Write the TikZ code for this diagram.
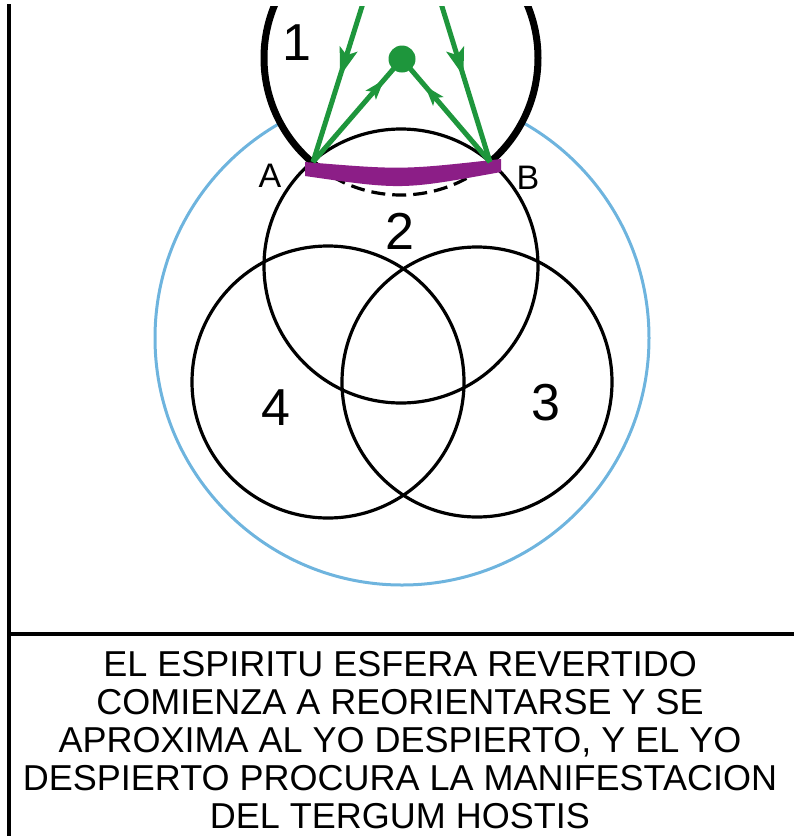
\documentclass[tikz,border=0pt]{standalone}
\usepackage{fontspec}
\setmainfont{Liberation Sans}
\usetikzlibrary{arrows.meta,decorations.markings}
\definecolor{skyblue}{RGB}{110,180,222}
\definecolor{arrowgreen}{RGB}{30,150,60}
\definecolor{bandmagenta}{RGB}{140,30,135}
\begin{document}
\begin{tikzpicture}[x=0.5pt,y=-0.5pt,
  ring/.style={draw=black,line width=1.6pt},
  frameline/.style={draw=black,line width=1.8pt},
  greenline/.style={draw=arrowgreen,line width=2.5pt},
  bigarrow/.style={greenline,postaction={decorate},decoration={markings,mark=at position #1 with {\arrow[arrowgreen]{Stealth[length=14pt,width=9pt,inset=3pt]}}}},
  smallarrow/.style={greenline,postaction={decorate},decoration={markings,mark=at position #1 with {\arrow[arrowgreen]{Stealth[length=10pt,width=6.5pt,inset=2pt]}}}},
  numlabel/.style={font=\fontsize{26pt}{28pt}\selectfont,inner sep=0pt},
  ptlabel/.style={font=\fontsize{17pt}{19pt}\selectfont,inner sep=0pt},
  caption/.style={font=\fontsize{18pt}{19pt}\selectfont,anchor=base,inner sep=0pt}]
\useasboundingbox (0,0) rectangle (794,836);
% frame
\draw[frameline] (9,4) -- (9,836);
\draw[frameline] (9,634) -- (794,634);
\begin{scope}
\clip (0,6) rectangle (794,836);
\draw[skyblue,line width=1.5pt] (402,338) circle[radius=247];
\fill[white] (401,58) circle[radius=137];
\draw[ring] (401,266) circle[radius=137];
\draw[ring] (477,382) circle[radius=135];
\draw[ring] (328,382) circle[radius=136];
\begin{scope}
\clip (0,0) rectangle (794,162);
\draw[line width=3.5pt] (401,58) circle[radius=137];
\end{scope}
\begin{scope}
\clip (0,163) rectangle (794,300);
\draw[line width=1.6pt,dash pattern=on 7pt off 3.5pt] (401,58) circle[radius=137];
\end{scope}
\fill[bandmagenta] (305,162) .. controls (402,170) .. (501,159) -- (501,172) .. controls (402,190) .. (305,176) -- cycle;
\coordinate (A) at (313,162);
\coordinate (B) at (490,162);
\coordinate (topL) at (364,0);
\coordinate (topR) at (440,0);
\node[circle,fill=arrowgreen,minimum size=13.5pt,inner sep=0pt] (dot) at (402,59) {};
\draw[bigarrow=0.47] (topL) -- (A);
\draw[bigarrow=0.47] (topR) -- (B);
\draw[smallarrow=0.8] (A) -- (dot.center);
\draw[smallarrow=0.74] (B) -- (dot.center);
\end{scope}
% labels
\node[numlabel] (n1) at (297,43) {1};
\node[numlabel] (n2) at (400,231) {2};
\node[numlabel] (n3) at (546,403) {3};
\node[numlabel] (n4) at (276,408) {4};
\node[ptlabel] (la) at (270,176) {A};
\node[ptlabel] (lb) at (528,178) {B};
% caption
\node[caption] (t1) at (400,676) {EL ESPIRITU ESFERA REVERTIDO};
\node[caption] (t2) at (400,714) {COMIENZA A REORIENTARSE Y SE};
\node[caption] (t3) at (400,752) {APROXIMA AL YO DESPIERTO, Y EL YO};
\node[caption] (t4) at (400,790) {DESPIERTO PROCURA LA MANIFESTACION};
\node[caption] (t5) at (400,828) {DEL TERGUM HOSTIS};
\end{tikzpicture}
\end{document}
